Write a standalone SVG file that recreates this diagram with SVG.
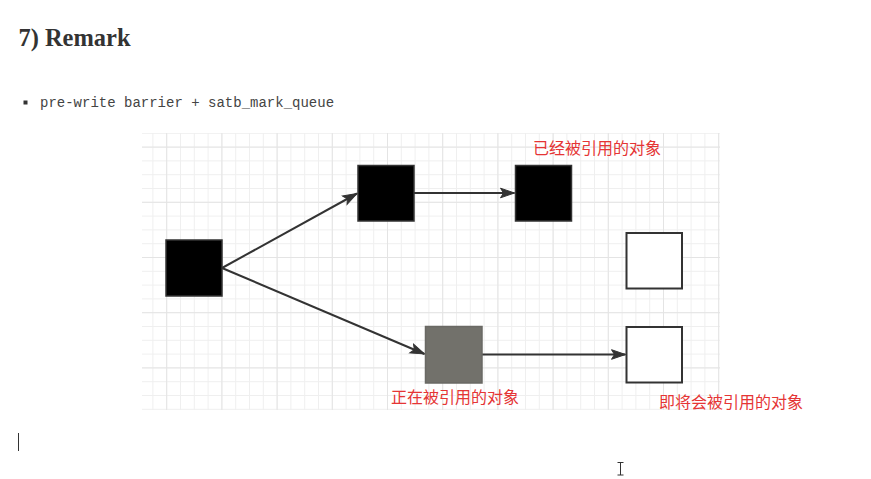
<svg xmlns="http://www.w3.org/2000/svg" width="871" height="479" viewBox="0 0 871 479">
  <style>
    .title { font-family: "Liberation Serif", "Times New Roman", serif; font-weight: bold; font-size: 25px; fill: #333333; }
    .code { font-family: "Liberation Mono", "Courier New", monospace; font-size: 14px; fill: #444444; }
    .lbl { font-family: "Liberation Sans", "Noto Sans CJK SC", sans-serif; font-size: 16px; fill: #e53535; }
    .blk { fill: #000000; stroke: #333333; stroke-width: 1.5; }
    .wht { fill: #ffffff; stroke: #333333; stroke-width: 2; }
    .gry { fill: #72716b; stroke: #6a6964; stroke-width: 1.5; }
    .edge { fill: none; stroke: #333333; stroke-width: 2; }
  </style>
  <defs>
    <pattern id="gridMinor" x="166.2" y="132.8" width="13.8" height="13.8" patternUnits="userSpaceOnUse">
      <path d="M0 0.5H13.8M0.5 0V13.8" fill="none" stroke="#efefef" stroke-width="1"/>
    </pattern>
    <pattern id="gridMajor" x="166.2" y="146.6" width="55.2" height="55.2" patternUnits="userSpaceOnUse">
      <path d="M0 0.5H55.2M0.5 0V55.2" fill="none" stroke="#e4e4e4" stroke-width="1"/>
    </pattern>
    <marker id="arrow" markerUnits="userSpaceOnUse" markerWidth="16" markerHeight="12" viewBox="0 0 16 12" refX="15" refY="6" orient="auto">
      <path d="M1 1.2 L15 6 L1 10.8 L4 6 Z" fill="#333333" stroke="#333333" stroke-width="1"/>
    </marker>
  </defs>

  <rect width="871" height="479" fill="#ffffff"/>

  <text class="title" x="18.5" y="46" textLength="112" lengthAdjust="spacingAndGlyphs">7) Remark</text>

  <rect x="23.5" y="100.5" width="4" height="4" fill="#333333"/>
  <text class="code" x="40" y="107">pre-write barrier + satb_mark_queue</text>

  <g id="grid">
    <rect x="142" y="133" width="578" height="277" fill="url(#gridMinor)"/>
    <rect x="142" y="133" width="578" height="277" fill="url(#gridMajor)"/>
  </g>

  <g id="connectors">
    <path class="edge" d="M222 268 L357 193.5" marker-end="url(#arrow)"/>
    <path class="edge" d="M222 268 L424.5 354" marker-end="url(#arrow)"/>
    <path class="edge" d="M414 193 L514.5 193" marker-end="url(#arrow)"/>
    <path class="edge" d="M482 354.5 L625.5 354.5" marker-end="url(#arrow)"/>
  </g>

  <g id="nodeA"><rect class="blk" x="166" y="240" width="56" height="56"/></g>
  <g id="nodeB"><rect class="blk" x="358" y="165.5" width="56" height="55.5"/></g>
  <g id="nodeC"><rect class="blk" x="515.5" y="165.5" width="56" height="55.5"/></g>
  <g id="nodeD"><rect class="wht" x="626.5" y="233" width="55.5" height="55.5"/></g>
  <g id="nodeE"><rect class="gry" x="425.5" y="326.5" width="56.5" height="56.5"/></g>
  <g id="nodeF"><rect class="wht" x="626.5" y="327" width="55.5" height="55.5"/></g>

  <g id="labels">
    <text class="lbl" x="533" y="154">已经被引用的对象</text>
    <text class="lbl" x="391" y="403">正在被引用的对象</text>
    <text class="lbl" x="659" y="408">即将会被引用的对象</text>
  </g>

  <g id="cursors" stroke="#333333" fill="none">
    <line x1="18.5" y1="433" x2="18.5" y2="451" stroke-width="1"/>
    <path d="M617.5 462.5 H623.5 M620.5 462.5 V475 M617.5 475 H623.5" stroke-width="1"/>
  </g>
</svg>
